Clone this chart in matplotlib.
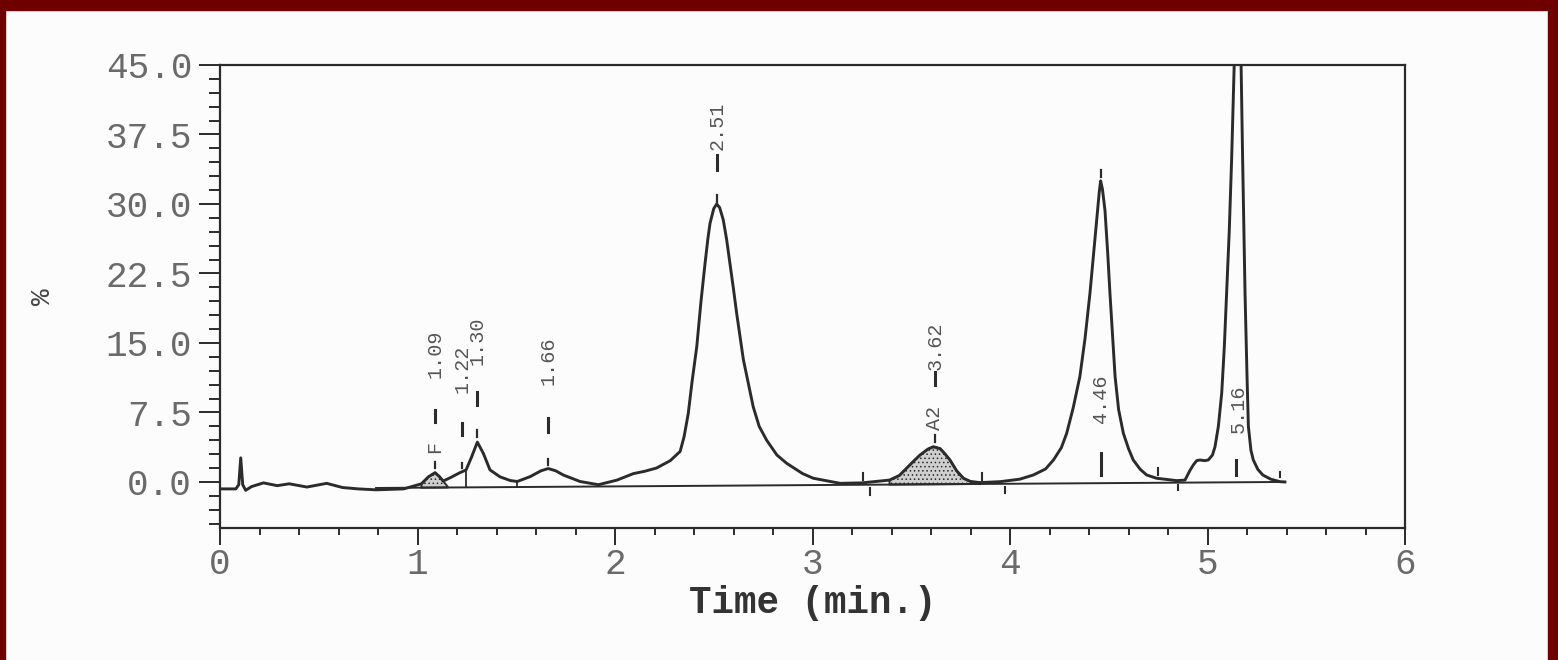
import numpy as np
import matplotlib
matplotlib.use("Agg")
import matplotlib.pyplot as plt
from matplotlib.patches import Rectangle
from matplotlib.ticker import MultipleLocator, FormatStrFormatter

# ---------------- data ----------------
time_min = [0.00, 0.08, 0.095, 0.105, 0.115, 0.13, 0.16, 0.22, 0.29, 0.35, 0.44,
            0.54, 0.62, 0.70, 0.79, 0.93, 0.98, 1.02, 1.055, 1.089, 1.11, 1.13,
            1.17, 1.21, 1.246, 1.274, 1.303, 1.333, 1.367, 1.418, 1.47, 1.505,
            1.57, 1.625, 1.662, 1.70, 1.738, 1.823, 1.916, 2.01, 2.093, 2.15,
            2.21, 2.28, 2.33, 2.35, 2.371, 2.39, 2.414, 2.435, 2.456, 2.47, 2.481,
            2.50, 2.515, 2.53, 2.548, 2.565, 2.582, 2.60, 2.616, 2.65, 2.70, 2.73,
            2.768, 2.82, 2.87, 2.95, 3.004, 3.14,
            3.25, 3.39, 3.44, 3.477, 3.51, 3.544, 3.585, 3.612, 3.646, 3.67, 3.696,
            3.73, 3.764, 3.80, 3.848, 3.95, 4.05, 4.118, 4.18, 4.22, 4.26, 4.287,
            4.32, 4.354, 4.38, 4.405, 4.425, 4.439, 4.452, 4.459, 4.468, 4.481,
            4.495, 4.506, 4.52, 4.532, 4.55, 4.574, 4.60, 4.624, 4.66, 4.692,
            4.742, 4.844, 4.886, 4.91, 4.928, 4.945, 4.962, 4.985, 5.004, 5.025,
            5.038, 5.055, 5.072, 5.085, 5.097, 5.11, 5.122,
            5.157, 5.178, 5.19, 5.20, 5.207, 5.22, 5.232, 5.255, 5.28, 5.32,
            5.367, 5.392]
signal_pct = [-0.75, -0.75, -0.3, 2.6, -0.3, -0.9, -0.5, -0.1, -0.4, -0.2, -0.55,
              -0.15, -0.6, -0.75, -0.85, -0.75, -0.45, -0.2, 0.55, 1.0, 0.6, 0.1,
              0.5, 0.95, 1.3, 2.7, 4.3, 3.1, 1.3, 0.55, 0.15, 0.05,
              0.57, 1.2, 1.45, 1.2, 0.75, 0.05, -0.3, 0.2, 0.9, 1.15,
              1.5, 2.3, 3.3, 4.9, 7.4, 10.8, 14.6, 19.4, 23.6, 26.2, 27.9,
              29.5, 30.0, 29.6, 28.3, 26.2, 23.6, 20.8, 18.2, 13.2, 8.1, 6.0,
              4.5, 2.9, 2.0, 0.9, 0.4, -0.15,
              -0.1, 0.2, 0.7, 1.5, 2.2, 2.9, 3.55, 3.8, 3.6, 3.05, 2.37,
              1.2, 0.4, 0.05, -0.07, 0.03, 0.3, 0.75, 1.4, 2.37, 3.7, 5.25,
              8.0, 11.4, 15.5, 20.4, 25.0, 28.3, 31.3, 32.5, 31.6, 29.3,
              24.6, 20.4, 15.5, 11.4, 7.8, 5.25, 3.6, 2.37, 1.35, 0.75,
              0.4, 0.14, 0.2, 1.2, 1.83, 2.3, 2.37, 2.3, 2.37, 2.9,
              3.8, 6.0, 9.6, 14.5, 20.4, 27.0, 34.7,
              62.0, 34.7, 20.4, 11.5, 6.0, 3.4, 2.37, 1.35, 0.75, 0.3,
              0.03, 0.0]

baseline_t = [0.79, 5.39]
baseline_v = [-0.65, 0.0]

peak_labels = ["1.09", "1.22", "1.30", "1.66", "2.51", "3.62", "4.46", "5.16"]
peak_rt = [1.089, 1.224, 1.303, 1.662, 2.515, 3.62, 4.459, 5.146]
peak_names = {"1.09": "F", "3.62": "A2"}

shaded_ranges = [(1.02, 1.13, 1.156), (3.39, 3.848, 3.848)]
drop_lines_t = [1.246, 1.505, 1.916]
event_ticks_t = [3.256, 3.291, 3.858, 3.975, 4.749, 4.851, 5.367]

yticks = [0.0, 7.5, 15.0, 22.5, 30.0, 37.5, 45.0]
xticks = [0, 1, 2, 3, 4, 5, 6]

# ---------------- layout ----------------
label_bottom = [11.2, 9.6, 12.6, 10.5, 35.8, 12.1, 6.4, 5.3]
label_x = [1.089, 1.224, 1.303, 1.662, 2.515, 3.62, 4.459, 5.154]
dash_span = [(6.5, 7.8), (5.1, 6.4), (8.3, 9.7), (5.4, 6.9), (33.7, 35.3),
             (10.5, 11.9), (0.75, 3.1), (0.75, 2.4)]
tick_span = [(1.5, 2.16), (1.5, 2.0), (4.85, 5.6), (1.8, 2.5), (30.2, 31.0),
             (4.3, 5.1), (32.9, 33.7), None]
name_bottom = {"1.09": 3.1, "3.62": 5.6}
event_span = [(0.2, 1.0), (-1.4, -0.65), (0.2, 1.0), (-1.2, -0.55),
              (0.75, 1.5), (-0.85, -0.3), (0.55, 1.1)]

ink = "#2b2b2b"
gray_txt = "#6a6a6a"
mono = ["Liberation Mono", "DejaVu Sans Mono"]

plt.rcParams["hatch.linewidth"] = 0.6
plt.rcParams["hatch.color"] = "#444444"

fig = plt.figure(figsize=(15.58, 6.60), dpi=100, facecolor="#fcfcfc")
ax = fig.add_axes([220 / 1558, 132 / 660, 1185 / 1558, 463 / 660])
ax.set_facecolor("#fcfcfc")

t = np.array(time_min)
s = np.array(signal_pct)

# shaded peaks
for (a, b, c) in shaded_ranges:
    m = (t >= a) & (t <= b)
    xs = list(t[m])
    ys = list(s[m])
    ba = np.interp(a, baseline_t, baseline_v)
    bc = np.interp(c, baseline_t, baseline_v)
    poly_x = [a] + xs + [c]
    poly_y = [ba] + ys + [bc]
    ax.fill(poly_x, poly_y, facecolor="#cfcfcf", edgecolor=ink,
            hatch="....", linewidth=1.4, zorder=2)

# integration baseline
ax.plot(baseline_t, baseline_v, color=ink, lw=1.4, zorder=3)

# trace
ax.plot(t, s, color=ink, lw=2.1, zorder=4, solid_joinstyle="round")

# drop lines
for dt in drop_lines_t:
    b = np.interp(dt, baseline_t, baseline_v)
    top = np.interp(dt, t, s)
    ax.plot([dt, dt], [b, top], color=ink, lw=1.3, zorder=3)

# event ticks
for et, (y0, y1) in zip(event_ticks_t, event_span):
    ax.plot([et, et], [y0, y1], color=ink, lw=1.5, zorder=3)

# peak annotations
for i, lab in enumerate(peak_labels):
    x = peak_rt[i]
    ax.text(label_x[i], label_bottom[i], lab, rotation=90, ha="center",
            va="bottom", fontsize=14.5, family=mono, color="#555555", zorder=5)
    d0, d1 = dash_span[i]
    ax.plot([x, x], [d0, d1], color=ink, lw=2.2, zorder=5)
    if tick_span[i] is not None:
        k0, k1 = tick_span[i]
        ax.plot([x, x], [k0, k1], color=ink, lw=1.6, zorder=5)
    if lab in peak_names:
        ax.text(x, name_bottom[lab], peak_names[lab], rotation=90, ha="center",
                va="bottom", fontsize=14.5, family=mono, color="#555555", zorder=5)

# axes
ax.set_xlim(0, 6)
ax.set_ylim(-4.97, 45)
ax.set_xticks(xticks)
ax.set_yticks(yticks)
ax.xaxis.set_minor_locator(MultipleLocator(0.2))
ax.yaxis.set_minor_locator(MultipleLocator(1.5))
ax.yaxis.set_major_formatter(FormatStrFormatter("%.1f"))
ax.tick_params(axis="both", which="both", direction="out", color=ink,
               width=1.4, top=False, right=False)
ax.tick_params(axis="x", which="major", length=12, pad=2)
ax.tick_params(axis="x", which="minor", length=5)
ax.tick_params(axis="y", which="major", length=15, pad=5)
ax.tick_params(axis="y", which="minor", length=8)
for lbl in ax.get_xticklabels() + ax.get_yticklabels():
    lbl.set_family(mono)
    lbl.set_fontsize(26)
    lbl.set_color(gray_txt)
for sp in ax.spines.values():
    sp.set_color(ink)
    sp.set_linewidth(1.6)

ax.set_xlabel("Time (min.)", family=mono, fontsize=27, fontweight="bold",
              color="#333333", labelpad=2)
ax.set_ylabel("%", family=mono, fontsize=20, color="#444444")
ax.yaxis.set_label_coords(-0.138, 0.5)

# scanned page border
border = "#6e0000"
fig.add_artist(Rectangle((0, 1 - 10 / 660), 1, 10 / 660, transform=fig.transFigure,
                         color=border, zorder=10))
fig.add_artist(Rectangle((0, 0), 5 / 1558, 1, transform=fig.transFigure,
                         color=border, zorder=10))
fig.add_artist(Rectangle((1 - 10 / 1558, 0), 10 / 1558, 1, transform=fig.transFigure,
                         color=border, zorder=10))

fig.savefig("out.png", dpi=100, facecolor=fig.get_facecolor())
